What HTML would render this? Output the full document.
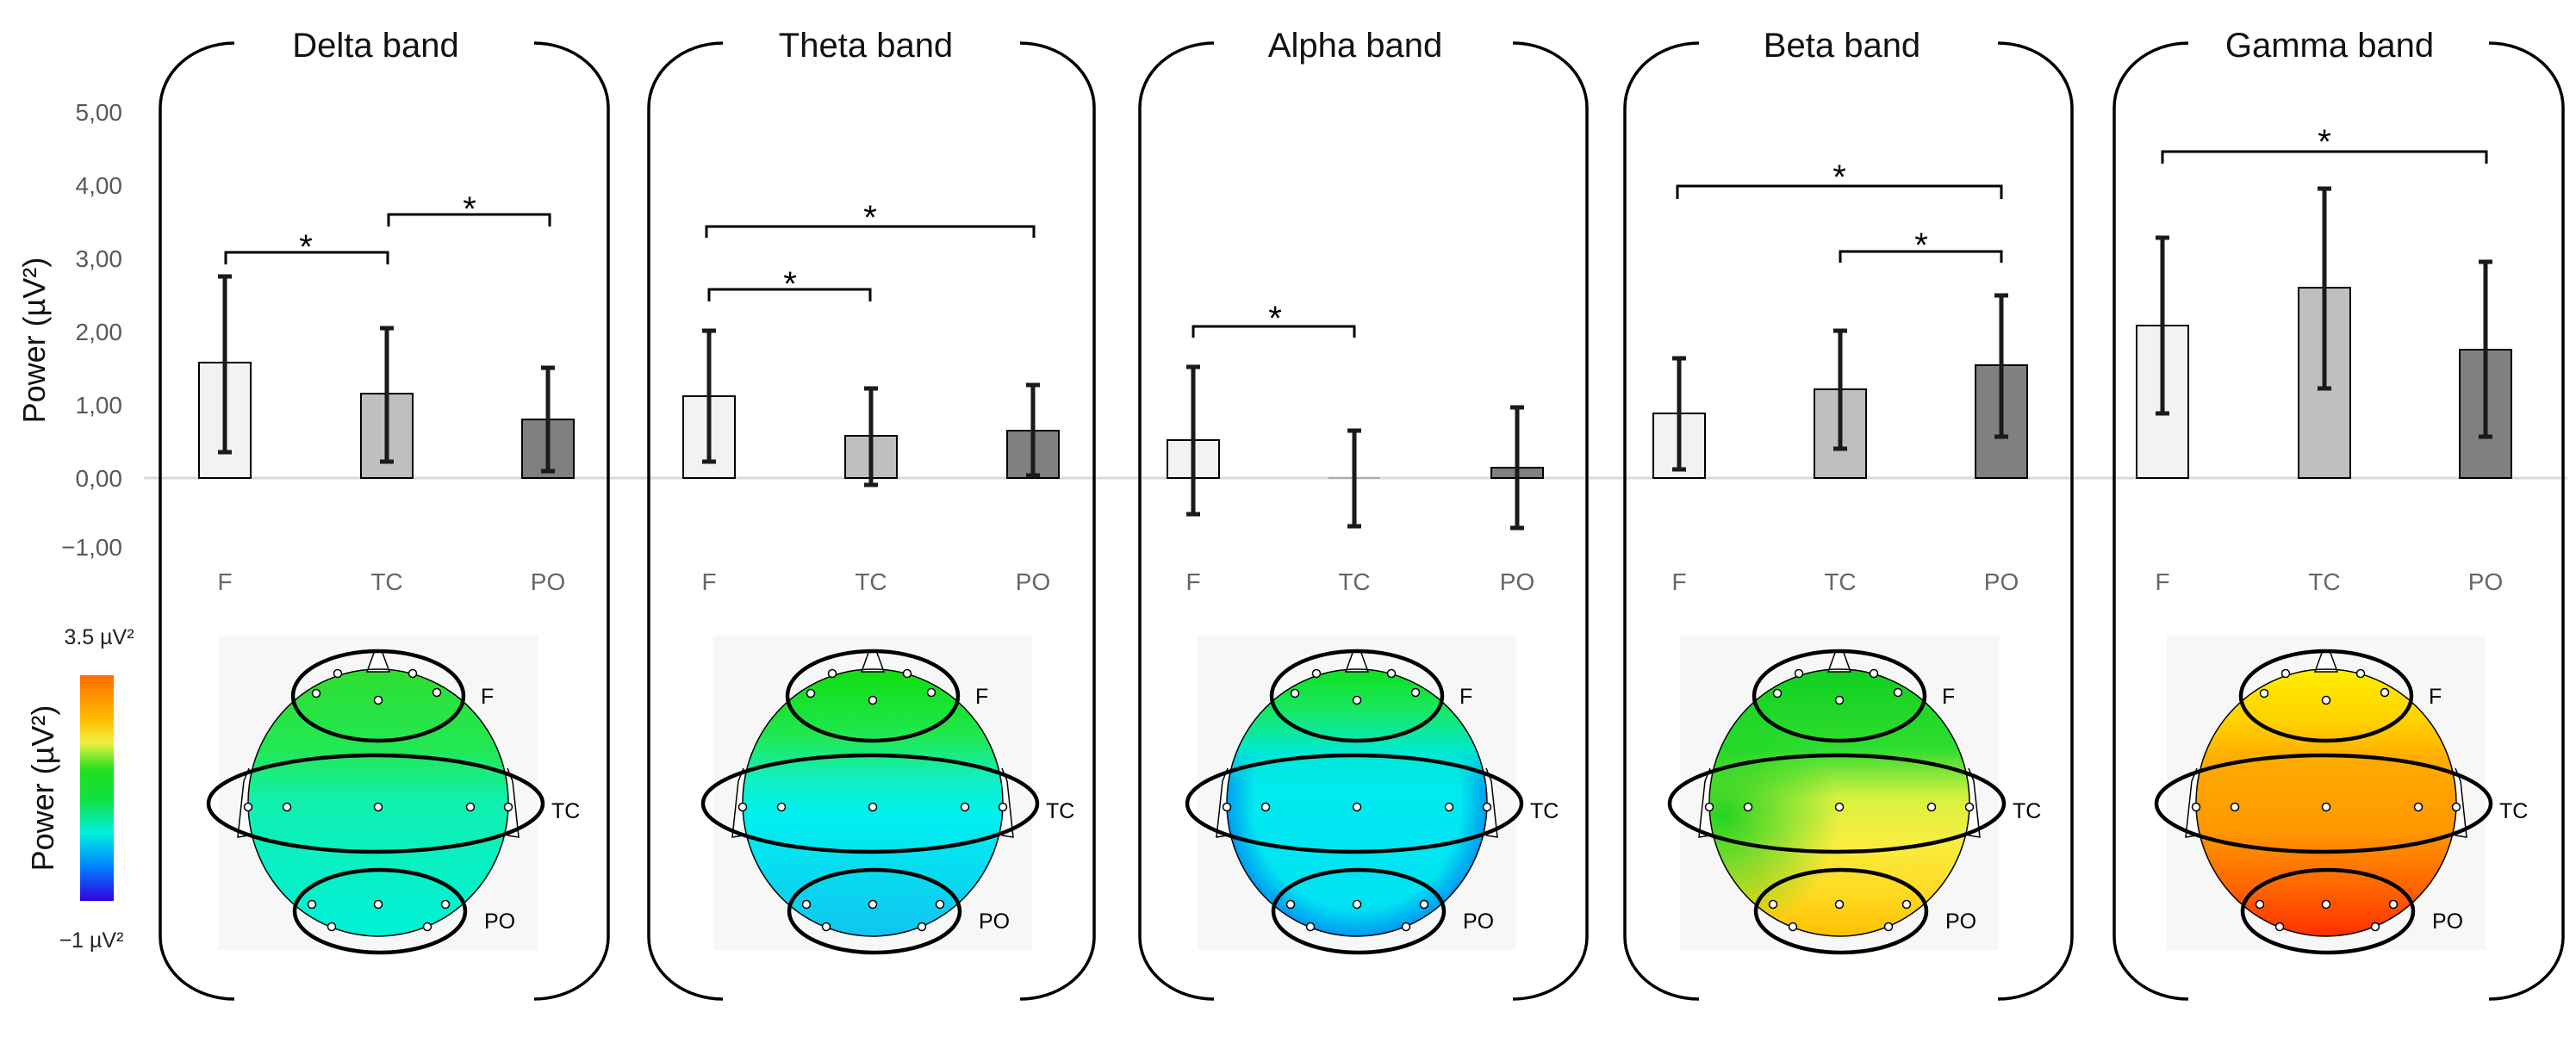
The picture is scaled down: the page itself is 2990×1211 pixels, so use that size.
<!DOCTYPE html>
<html><head><meta charset="utf-8"><style>
html,body{margin:0;padding:0;background:#fff;}
svg{display:block;}
text{font-family:"Liberation Sans",sans-serif;}
</style></head><body>
<svg width="2990" height="1211" viewBox="0 0 2990 1211" xmlns="http://www.w3.org/2000/svg">
<defs>
<linearGradient id="cbar" x1="0" y1="0" x2="0" y2="1">
<stop offset="0" stop-color="#ff6a00"/><stop offset="0.2" stop-color="#ffc000"/><stop offset="0.3" stop-color="#eef040"/><stop offset="0.42" stop-color="#20e020"/><stop offset="0.55" stop-color="#10e040"/><stop offset="0.7" stop-color="#00f0e0"/><stop offset="0.85" stop-color="#0080ff"/><stop offset="1" stop-color="#3000e0"/>
</linearGradient>
<linearGradient id="gDelta" x1="0" y1="0" x2="0" y2="1">
<stop offset="0" stop-color="#30dd30"/><stop offset="0.3" stop-color="#22e855"/><stop offset="0.5" stop-color="#10f0b0"/><stop offset="1" stop-color="#00f0d8"/>
</linearGradient>
<linearGradient id="gTheta" x1="0" y1="0" x2="0" y2="1">
<stop offset="0" stop-color="#10dd10"/><stop offset="0.25" stop-color="#20e850"/><stop offset="0.42" stop-color="#10f0c8"/><stop offset="0.55" stop-color="#00f0f0"/><stop offset="1" stop-color="#10c4f0"/>
</linearGradient>
<linearGradient id="gAlpha" x1="0" y1="0" x2="0" y2="1">
<stop offset="0" stop-color="#10e020"/><stop offset="0.15" stop-color="#18e860"/><stop offset="0.32" stop-color="#00e8d8"/><stop offset="0.45" stop-color="#00eaf0"/><stop offset="1" stop-color="#00e0f4"/>
</linearGradient>
<radialGradient id="gAlphaEdge" cx="0.5" cy="0.5" r="0.5">
<stop offset="0.8" stop-color="#0060f0" stop-opacity="0"/><stop offset="1" stop-color="#0060f0" stop-opacity="0.55"/>
</radialGradient>
<linearGradient id="gAlphaMask" x1="0" y1="0" x2="0" y2="1">
<stop offset="0" stop-color="#fff" stop-opacity="0"/><stop offset="0.3" stop-color="#fff" stop-opacity="0"/><stop offset="0.45" stop-color="#fff" stop-opacity="1"/><stop offset="1" stop-color="#fff" stop-opacity="1"/>
</linearGradient>
<mask id="alphaMask"><rect x="1420" y="775" width="310" height="315" fill="url(#gAlphaMask)"/></mask>
<linearGradient id="gBeta" x1="0" y1="0" x2="0" y2="1">
<stop offset="0" stop-color="#10d020"/><stop offset="0.3" stop-color="#30dd30"/><stop offset="0.48" stop-color="#d8f040"/><stop offset="0.65" stop-color="#f8ee40"/><stop offset="0.85" stop-color="#ffd820"/><stop offset="1" stop-color="#ffc000"/>
</linearGradient>
<radialGradient id="gBetaLeft" cx="0.05" cy="0.55" r="0.45">
<stop offset="0" stop-color="#10d020" stop-opacity="0.9"/><stop offset="1" stop-color="#10d020" stop-opacity="0"/>
</radialGradient>
<linearGradient id="gGamma" x1="0" y1="0" x2="0" y2="1">
<stop offset="0" stop-color="#ffee00"/><stop offset="0.18" stop-color="#ffd400"/><stop offset="0.35" stop-color="#ffaa00"/><stop offset="0.6" stop-color="#ff9800"/><stop offset="0.8" stop-color="#ff6a00"/><stop offset="1" stop-color="#ff3000"/>
</linearGradient>
<g id="topo" fill="none" stroke="#000">
<path d="M-13,-152 L-5,-174 Q0,-180 5,-174 L13,-152 Z" fill="#fff" stroke-width="1.5"/>
<path d="M-150,-40 L-156,-25 L-163,40 L-150,38" fill="#fff" stroke-width="1.5"/>
<path d="M150,-40 L156,-25 L163,40 L150,38" fill="#fff" stroke-width="1.5"/>
<ellipse cx="0" cy="0" rx="151" ry="155" stroke-width="1.5"/>
<g fill="#fff" stroke-width="1.5">
<circle cx="-47" cy="-150" r="4.5"/><circle cx="40" cy="-150" r="4.5"/>
<circle cx="-72" cy="-127" r="4.5"/><circle cx="68" cy="-128" r="4.5"/><circle cx="0" cy="-119" r="4.5"/>
<circle cx="-151" cy="5" r="4.5"/><circle cx="-106" cy="5" r="4.5"/><circle cx="0" cy="5" r="4.5"/><circle cx="107" cy="5" r="4.5"/><circle cx="151" cy="5" r="4.5"/>
<circle cx="-77" cy="118" r="4.5"/><circle cx="0" cy="118" r="4.5"/><circle cx="78" cy="118" r="4.5"/>
<circle cx="-54" cy="144" r="4.5"/><circle cx="57" cy="144" r="4.5"/>
</g>
<ellipse cx="0" cy="-124" rx="99" ry="52" stroke-width="4.5"/>
<ellipse cx="-3" cy="1" rx="194" ry="56" stroke-width="4.5"/>
<ellipse cx="2" cy="126" rx="99" ry="48" stroke-width="4.5"/>
</g>
</defs>

<g font-size="28" fill="#595959" text-anchor="end">
<text x="142" y="140">5,00</text><text x="142" y="225">4,00</text><text x="142" y="310">3,00</text>
<text x="142" y="395">2,00</text><text x="142" y="480">1,00</text><text x="142" y="565">0,00</text>
<text x="142" y="645">−1,00</text>
</g>
<text transform="translate(52,395) rotate(-90)" font-size="36" fill="#111" text-anchor="middle">Power (µV²)</text>

<rect x="93" y="784" width="39" height="262" fill="url(#cbar)"/>
<text x="115" y="748" font-size="25" fill="#222" text-anchor="middle">3.5 µV²</text>
<text x="106" y="1100" font-size="25" fill="#222" text-anchor="middle">−1 µV²</text>
<text transform="translate(62,915) rotate(-90)" font-size="36" fill="#111" text-anchor="middle">Power (µV²)</text>

<line x1="167" y1="555" x2="2980" y2="555" stroke="#d9d9d9" stroke-width="3"/>

<g fill="none" stroke="#000" stroke-width="3.5">
<path d="M272,50 A86 75 0 0 0 186,125 L186,1088 A86 72 0 0 0 272,1160"/><path d="M620,50 A86 75 0 0 1 706,125 L706,1088 A86 72 0 0 1 620,1160"/>
<path d="M839,50 A86 75 0 0 0 753,125 L753,1088 A86 72 0 0 0 839,1160"/><path d="M1184,50 A86 75 0 0 1 1270,125 L1270,1088 A86 72 0 0 1 1184,1160"/>
<path d="M1409,50 A86 75 0 0 0 1323,125 L1323,1088 A86 72 0 0 0 1409,1160"/><path d="M1756,50 A86 75 0 0 1 1842,125 L1842,1088 A86 72 0 0 1 1756,1160"/>
<path d="M1972,50 A86 75 0 0 0 1886,125 L1886,1088 A86 72 0 0 0 1972,1160"/><path d="M2319,50 A86 75 0 0 1 2405,125 L2405,1088 A86 72 0 0 1 2319,1160"/>
<path d="M2540,50 A86 75 0 0 0 2454,125 L2454,1088 A86 72 0 0 0 2540,1160"/><path d="M2889,50 A86 75 0 0 1 2975,125 L2975,1088 A86 72 0 0 1 2889,1160"/>
</g>
<g font-size="40" fill="#111" text-anchor="middle">
<text x="436" y="66">Delta band</text><text x="1005" y="66">Theta band</text><text x="1573" y="66">Alpha band</text><text x="2138" y="66">Beta band</text><text x="2704" y="66">Gamma band</text>
</g>

<g stroke="#000" stroke-width="2">
<rect x="231" y="421" width="60" height="134" fill="#f2f2f2"/><rect x="419" y="457" width="60" height="98" fill="#bfbfbf"/><rect x="606" y="487" width="60" height="68" fill="#808080"/>
<rect x="793" y="460" width="60" height="95" fill="#f2f2f2"/><rect x="981" y="506" width="60" height="49" fill="#bfbfbf"/><rect x="1169" y="500" width="60" height="55" fill="#808080"/>
<rect x="1355" y="511" width="60" height="44" fill="#f2f2f2"/><rect x="1731" y="543" width="60" height="12" fill="#808080"/>
<rect x="1919" y="480" width="60" height="75" fill="#f2f2f2"/><rect x="2106" y="452" width="60" height="103" fill="#bfbfbf"/><rect x="2293" y="424" width="60" height="131" fill="#808080"/>
<rect x="2480" y="378" width="60" height="177" fill="#f2f2f2"/><rect x="2668" y="334" width="60" height="221" fill="#bfbfbf"/><rect x="2855" y="406" width="60" height="149" fill="#808080"/>
</g>
<line x1="1542" y1="555" x2="1602" y2="555" stroke="#aaa" stroke-width="2"/>

<g stroke="#1a1a1a" stroke-width="5">
<path d="M261,321V525M253,321H269M253,525H269"/><path d="M449,381V536M441,381H457M441,536H457"/><path d="M636,427V547M628,427H644M628,547H644"/>
<path d="M823,384V536M815,384H831M815,536H831"/><path d="M1011,451V563M1003,451H1019M1003,563H1019"/><path d="M1199,447V552M1191,447H1207M1191,552H1207"/>
<path d="M1385,426V597M1377,426H1393M1377,597H1393"/><path d="M1572,500V611M1564,500H1580M1564,611H1580"/><path d="M1761,473V613M1753,473H1769M1753,613H1769"/>
<path d="M1949,416V545M1941,416H1957M1941,545H1957"/><path d="M2136,384V521M2128,384H2144M2128,521H2144"/><path d="M2323,343V507M2315,343H2331M2315,507H2331"/>
<path d="M2510,276V480M2502,276H2518M2502,480H2518"/><path d="M2698,219V451M2690,219H2706M2690,451H2706"/><path d="M2885,304V507M2877,304H2893M2877,507H2893"/>
</g>

<g fill="none" stroke="#000" stroke-width="3">
<path d="M262,307V293H450V307"/><path d="M451,263V249H638V263"/>
<path d="M820,276V263H1200V276"/><path d="M823,350V336H1010V350"/>
<path d="M1385,392V379H1572V392"/>
<path d="M1947,231V216H2323V231"/><path d="M2136,305V292H2323V305"/>
<path d="M2510,190V176H2886V190"/>
</g>
<g font-size="40" fill="#000" text-anchor="middle">
<text x="355" y="300">*</text><text x="545" y="256">*</text>
<text x="1010" y="266">*</text><text x="917" y="343">*</text>
<text x="1480" y="383">*</text>
<text x="2135" y="219">*</text><text x="2230" y="298">*</text>
<text x="2698" y="178">*</text>
</g>

<g font-size="28" fill="#666" text-anchor="middle">
<text x="261" y="685">F</text><text x="449" y="685">TC</text><text x="636" y="685">PO</text>
<text x="823" y="685">F</text><text x="1011" y="685">TC</text><text x="1199" y="685">PO</text>
<text x="1385" y="685">F</text><text x="1572" y="685">TC</text><text x="1761" y="685">PO</text>
<text x="1949" y="685">F</text><text x="2136" y="685">TC</text><text x="2323" y="685">PO</text>
<text x="2510" y="685">F</text><text x="2698" y="685">TC</text><text x="2885" y="685">PO</text>
</g>

<g fill="#f7f7f7">
<rect x="254" y="738" width="370" height="365"/><rect x="828" y="738" width="370" height="365"/><rect x="1390" y="738" width="370" height="365"/><rect x="1950" y="738" width="370" height="365"/><rect x="2515" y="738" width="370" height="365"/>
</g>
<ellipse cx="439" cy="932" rx="151" ry="155" fill="url(#gDelta)"/>
<ellipse cx="1013" cy="932" rx="151" ry="155" fill="url(#gTheta)"/>
<ellipse cx="1575" cy="932" rx="151" ry="155" fill="url(#gAlpha)"/>
<ellipse cx="1575" cy="932" rx="151" ry="155" fill="url(#gAlphaEdge)" mask="url(#alphaMask)"/>
<ellipse cx="2135" cy="932" rx="151" ry="155" fill="url(#gBeta)"/>
<ellipse cx="2135" cy="932" rx="151" ry="155" fill="url(#gBetaLeft)"/>
<ellipse cx="2700" cy="932" rx="151" ry="155" fill="url(#gGamma)"/>
<use href="#topo" transform="translate(439,932)"/>
<use href="#topo" transform="translate(1013,932)"/>
<use href="#topo" transform="translate(1575,932)"/>
<use href="#topo" transform="translate(2135,932)"/>
<use href="#topo" transform="translate(2700,932)"/>
<g font-size="25" fill="#000">
<text x="558" y="817">F</text><text x="640" y="950">TC</text><text x="562" y="1078">PO</text>
<text x="1132" y="817">F</text><text x="1214" y="950">TC</text><text x="1136" y="1078">PO</text>
<text x="1694" y="817">F</text><text x="1776" y="950">TC</text><text x="1698" y="1078">PO</text>
<text x="2254" y="817">F</text><text x="2336" y="950">TC</text><text x="2258" y="1078">PO</text>
<text x="2819" y="817">F</text><text x="2901" y="950">TC</text><text x="2823" y="1078">PO</text>
</g>
</svg>
</body></html>
